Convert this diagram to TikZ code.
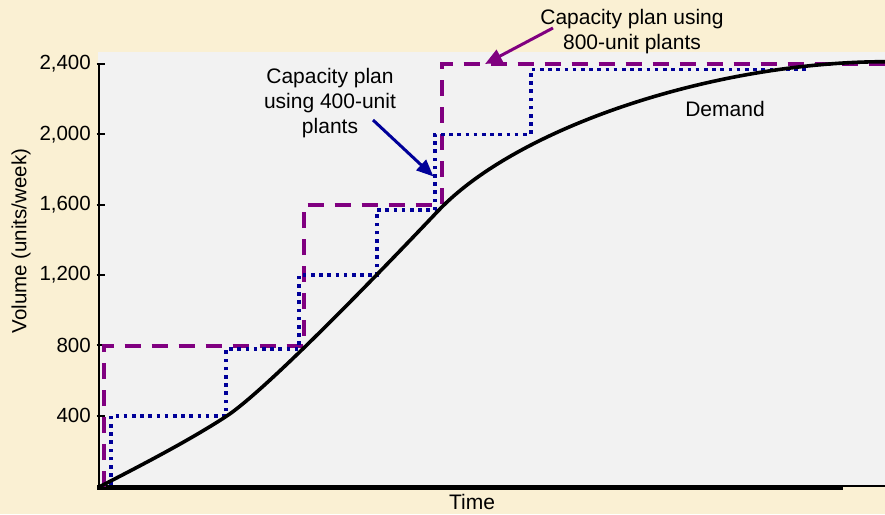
\documentclass[tikz,border=0pt]{standalone}
\usepackage{fontspec}
\setmainfont{Liberation Sans}
\usetikzlibrary{arrows.meta}
\definecolor{cream}{HTML}{FAF0D3}
\definecolor{plotgray}{HTML}{F2F2F2}
\definecolor{plum}{HTML}{800080}
\definecolor{navy}{HTML}{000099}
\begin{document}
\begin{tikzpicture}[x=1pt,y=-1pt,
  lbl/.style={font=\fontsize{21}{25}\selectfont, align=center, inner sep=0pt},
  ticklbl/.style={font=\fontsize{20.5}{24}\selectfont, inner sep=0pt, anchor=east},
  plan800/.style={plum, line width=4pt, dash pattern=on 16pt off 11pt},
  plan400/.style={navy, line width=3.6pt, dash pattern=on 3.6pt off 4.6pt},
  demand/.style={black, line width=3.6pt},
  callout/.style={line width=3pt, -{Triangle[length=17pt,width=14pt]}},
  tickmark/.style={black, line width=2pt}]
\useasboundingbox (0,0) rectangle (885,514);
\fill[cream] (0,0) rectangle (885,514);
\fill[plotgray] (98,51.7) rectangle (885,487);
% axes
\draw[black, line width=2.2pt] (99,64) -- (99,489);
\draw[black, line width=4.6pt] (97,487.7) -- (843,487.7);
\draw[black, line width=1.8pt] (843,486.2) -- (885,486.2);
% ticks and labels
\foreach \v/\y/\t in {400/415.7/400, 800/345.3/800, 1200/275/{1,200}, 1600/204.7/{1,600}, 2000/134.3/{2,000}, 2400/64/{2,400}}{
  \draw[tickmark] (96.7,\y) -- (105.3,\y);
  \node[ticklbl] (t\v) at (91,\y) {\t};
}
% 800-unit plan
\draw[plan800] (104,487) -- (104,345.5) -- (304,345.5) -- (304,204.7) -- (441.7,204.7) -- (441.7,63.6) -- (885,63.6);
% 400-unit plan
\draw[plan400] (111,485) -- (111,415.7) -- (226,415.7) -- (226,349) -- (299,349) -- (299,275) -- (377,275) -- (377,210) -- (435,210) -- (435,134.3) -- (530.7,134.3) -- (530.7,69.3) -- (806,69.3);
% demand
\draw[demand] (99,487) .. controls (140,466) and (190,440) .. (226,416.5) .. controls (266,390.5) and (383,269) .. (438,211) .. controls (518,126.6) and (715,62) .. (885,61.7);
% labels
\node[lbl, anchor=base] (time) at (472,509.3) {Time};
\node[lbl, rotate=90, font=\fontsize{20.5}{24}\selectfont] (vol) at (21,241) {Volume (units/week)};
\node[lbl, anchor=base] (dem) at (725,116.7) {Demand};
\node[lbl] (c800) at (632,32) {Capacity plan using\\800-unit plants};
\node[lbl] (c400) at (330,103) {Capacity plan\\using 400-unit\\plants};
% callouts
\coordinate (a800tail) at (553,28);
\coordinate (a800tip) at (485,64);
\coordinate (a400tail) at (373,120);
\coordinate (a400tip) at (433.5,176.5);
\draw[callout, plum] (a800tail) -- (a800tip);
\draw[callout, navy] (a400tail) -- (a400tip);
\end{tikzpicture}
\end{document}
